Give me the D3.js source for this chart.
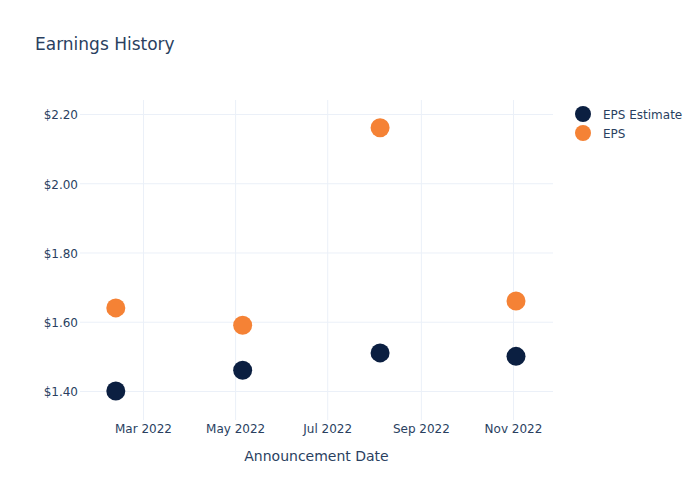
<!DOCTYPE html>
<html>
<head>
<meta charset="utf-8">
<script src="https://cdn.jsdelivr.net/npm/d3@7"></script>
<style>
  body { margin: 0; background: #fff; }
  svg { font-family: "DejaVu Sans", "Open Sans", Verdana, sans-serif; }
</style>
</head>
<body>
<div id="chart"></div>
<script>
// ---- Data ----
const dates = ["2022-02-11", "2022-05-06", "2022-08-05", "2022-11-03"];
const epsEstimate = [1.40, 1.46, 1.51, 1.50];
const eps = [1.64, 1.59, 2.16, 1.66];
const seriesNames = ["EPS Estimate", "EPS"];
const seriesColors = ["#0b1f41", "#f58235"];
const yTicks = [1.40, 1.60, 1.80, 2.00, 2.20];
const xTicks = ["2022-03-01", "2022-05-01", "2022-07-01", "2022-09-01", "2022-11-01"];
const xDomain = ["2022-01-18T07:00", "2022-11-27T12:00"];
const yDomain = [1.3162, 2.2404];

// ---- Layout ----
const W = 700, H = 500;
const M = { l: 80, t: 100, r: 147, b: 80 };
const textColor = "#2a3f5f";
const gridColor = "#ebf0f8";
const fontFam = '"DejaVu Sans", "Open Sans", Verdana, sans-serif';

const parse = d3.isoParse;
const svg = d3.select("#chart").append("svg").attr("width", W).attr("height", H);

const x = d3.scaleTime().domain(xDomain.map(parse)).range([M.l, W - M.r]);
const y = d3.scaleLinear().domain(yDomain).range([H - M.b, M.t]);

// gridlines
const xAxis = d3.axisBottom(x)
  .tickValues(xTicks.map(parse))
  .tickFormat(d3.timeFormat("%b %Y"))
  .tickSize(-(H - M.t - M.b)).tickPadding(4.5);
const gx = svg.append("g").attr("transform", `translate(0,${H - M.b})`).call(xAxis)
  .attr("font-family", fontFam).attr("font-size", 12);
gx.select(".domain").remove();
gx.selectAll(".tick line").attr("stroke", gridColor).attr("stroke-width", 1);
gx.selectAll(".tick text").attr("fill", textColor);

const yAxis = d3.axisLeft(y)
  .tickValues(yTicks)
  .tickFormat(d => "$" + d3.format(".2f")(d))
  .tickSize(-(W - M.l - M.r)).tickPadding(2);
const gy = svg.append("g").attr("transform", `translate(${M.l},0)`).call(yAxis)
  .attr("font-family", fontFam).attr("font-size", 12);
gy.select(".domain").remove();
gy.selectAll(".tick line").attr("stroke", gridColor).attr("stroke-width", 1);
gy.selectAll(".tick text").attr("fill", textColor).attr("dy", "0.4em");

// points
const seriesData = [epsEstimate, eps];
seriesData.forEach((vals, si) => {
  svg.append("g").selectAll("circle")
    .data(vals.map((v, i) => ({ d: parse(dates[i]), v })))
    .join("circle")
    .attr("cx", d => x(d.d))
    .attr("cy", d => y(d.v))
    .attr("r", 9.5)
    .attr("fill", seriesColors[si]);
});

// title
svg.append("text").attr("x", 35).attr("y", 50)
  .attr("fill", textColor).style("font-size", "17px").text("Earnings History");

// axis title
svg.append("text").attr("x", (M.l + W - M.r) / 2).attr("y", 461)
  .attr("text-anchor", "middle").attr("fill", textColor)
  .style("font-size", "14px").text("Announcement Date");

// legend
const lg = svg.append("g");
seriesNames.forEach((n, i) => {
  const yy = 114 + i * 19;
  lg.append("circle").attr("cx", 583).attr("cy", yy).attr("r", 8).attr("fill", seriesColors[i]);
  lg.append("text").attr("x", 603).attr("y", yy + 4.5).attr("fill", textColor)
    .style("font-size", "12px").text(n);
});
</script>
</body>
</html>
